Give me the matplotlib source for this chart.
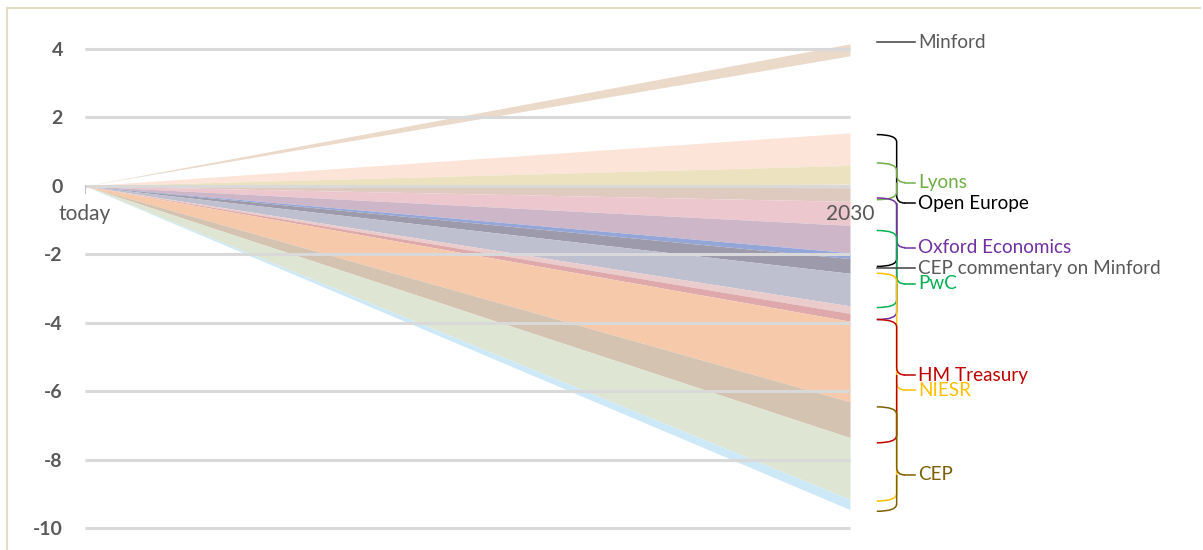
import numpy as np
import matplotlib.pyplot as plt
from matplotlib.path import Path
from matplotlib.patches import PathPatch
from matplotlib.lines import Line2D

plt.rcParams['font.family'] = ['Lato', 'DejaVu Sans']

# x positions: today = 0, 2030 = 1
periods = ["today", "2030"]
period_x = [0, 1]

# coloured bands, value range reached in 2030 (top, bottom)
band_top = [4.15, 1.55, 0.6, -0.05, -0.45, -1.15, -1.95, -2.12, -2.55, -3.5, -3.72, -3.95, -6.3, -7.35, -9.15]
band_bottom = [3.8, 0.6, 0.05, -0.45, -1.15, -1.95, -2.12, -2.55, -3.5, -3.72, -3.95, -6.3, -7.35, -9.15, -9.45]
band_colors = ['#ebd9ca', '#fce4d8', '#ece2c0', '#dfcabf', '#ecc7cd', '#cdb6c8', '#94a6d8',
               '#9d9bab', '#bebfcf', '#e9cccb', '#dfa9ab', '#f6c9aa', '#d5c3b1', '#dee6d3', '#cde9f7']

# forecasts shown on the right: range in 2030 and where the label sits
labels = ["Minford", "Open Europe", "Lyons", "Oxford Economics", "CEP commentary on Minford",
          "PwC", "NIESR", "HM Treasury", "CEP"]
range_hi = [4.2, 1.5, 0.67, -0.35, -2.4, -1.3, -2.55, -3.9, -6.45]
range_lo = [4.2, -2.35, -0.4, -3.9, -2.4, -3.55, -9.2, -7.5, -9.5]
label_y = [4.2, -0.5, 0.1, -1.8, -2.4, -2.86, -5.96, -5.52, -8.44]
label_colors = ['#595959', '#000000', '#70ad47', '#7030a0', '#595959',
                '#00b050', '#ffc000', '#c00000', '#7f6000']
line_colors = ['#404040', '#000000', '#70ad47', '#7030a0', '#404040',
               '#00b050', '#ffc000', '#c00000', '#7f6000']

yticks = [4, 2, 0, -2, -4, -6, -8, -10]

fig = plt.figure(figsize=(12.03, 5.5), dpi=100)
ax = fig.add_axes([85 / 1203, 0, 1118 / 1203, 1])
ax.set_xlim(0, 1118 / 765)
ax.set_ylim(-10.63, 5.43)

x = np.array(period_x, dtype=float)
for top, bot, c in zip(band_top, band_bottom, band_colors):
    ax.fill_between(x, bot * x, top * x, color=c, lw=0, zorder=1)

ax.hlines(yticks, 0, 1, color='#d9d9d9', lw=2.2, zorder=2)
ax.plot([0, 0], [0, -0.2], color='#bfbfbf', lw=1.5, zorder=3)

for px, lab in zip(period_x, periods):
    ax.text(px, -0.82, lab, ha='center', va='center', fontsize=15, color='#595959', zorder=4)

ax.set_yticks(yticks)
ax.set_yticklabels([str(t) for t in yticks], fontsize=14, fontweight='bold', color='#595959')
ax.tick_params(axis='y', length=0, pad=16)
ax.set_xticks([])
for s in ax.spines.values():
    s.set_visible(False)

# braces
hx, vx, tx, lx, txt_x = 1.035, 1.061, 1.072, 1.085, 1.089
r = 0.22
for name, hi, lo, ym, lc, tc in zip(labels, range_hi, range_lo, label_y, line_colors, label_colors):
    if hi == lo:
        ax.plot([hx, lx], [ym, ym], color=lc, lw=1.1, clip_on=False)
    else:
        verts = [(hx, hi), (vx, hi), (vx, hi - r), (vx, ym + r), (vx, ym), (tx, ym),
                 (vx, ym), (vx, ym - r), (vx, lo + r), (vx, lo), (hx, lo)]
        codes = [Path.MOVETO, Path.CURVE3, Path.CURVE3, Path.LINETO, Path.CURVE3, Path.CURVE3,
                 Path.MOVETO, Path.CURVE3, Path.LINETO, Path.CURVE3, Path.CURVE3]
        ax.add_patch(PathPatch(Path(verts, codes), fill=False, edgecolor=lc, lw=1.1, clip_on=False))
        ax.plot([tx, lx], [ym, ym], color=lc, lw=1.1, clip_on=False)
    ax.text(txt_x, ym, name, ha='left', va='center', fontsize=13.6, color=tc)

# frame lines of the original image
fig.add_artist(Line2D([7 / 1203, 1200 / 1203], [1 - 8 / 550, 1 - 8 / 550], color='#e2dcc4', lw=1.5))
fig.add_artist(Line2D([7 / 1203, 7 / 1203], [0, 1 - 8 / 550], color='#e2dcc4', lw=1.5))

fig.savefig('out.png', dpi=100)
